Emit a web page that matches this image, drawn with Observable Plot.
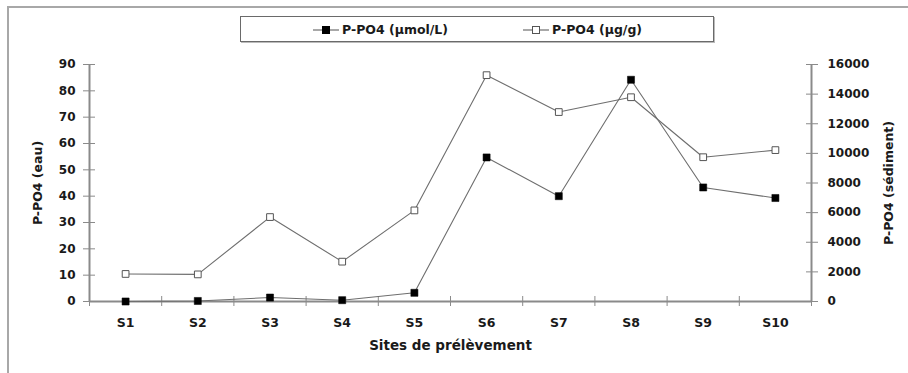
<!DOCTYPE html>
<html>
<head>
<meta charset="utf-8">
<script src="https://cdn.jsdelivr.net/npm/d3@7"></script>
<script src="https://cdn.jsdelivr.net/npm/@observablehq/plot@0.6"></script>
<style>
  html, body { margin: 0; padding: 0; background: #fff; }
  #wrap { position: relative; width: 908px; height: 373px; overflow: hidden; font-family: "DejaVu Sans", sans-serif; }
  #frameTop { position: absolute; left: 7px; top: 6px; width: 910px; height: 0; border-top: 2px solid #a8a8a8; }
  #frameLeft { position: absolute; left: 7px; top: 6px; width: 0; height: 380px; border-left: 2px solid #a8a8a8; }
  #legend { position: absolute; left: 240px; top: 16px; width: 472px; height: 24px; border: 1px solid #6a6a6a; box-shadow: 1px 1px 0 #bbb; background: #fff;
            font-weight: bold; font-size: 12.5px; color: #1a1a1a; }
  .item { position: absolute; top: 5px; display: flex; align-items: center; white-space: nowrap; }
  .item svg { margin-right: 3px; }
  #chart svg { display: block; }
</style>
</head>
<body>
<div id="wrap">
  <div id="chart"></div>
  <div id="frameTop"></div>
  <div id="frameLeft"></div>
  <div id="legend"></div>
</div>
<script>
const sites = ["S1", "S2", "S3", "S4", "S5", "S6", "S7", "S8", "S9", "S10"];
const eau = [0, 0.2, 1.5, 0.5, 3.3, 54.7, 40.0, 84.2, 43.3, 39.3];          // P-PO4 (µmol/L)
const sediment = [1860, 1830, 5700, 2690, 6150, 15280, 12790, 13790, 9740, 10220]; // P-PO4 (µg/g)
const leftTicks = [0, 10, 20, 30, 40, 50, 60, 70, 80, 90];
const rightTicks = [0, 2000, 4000, 6000, 8000, 10000, 12000, 14000, 16000];
const leftMax = 90, rightMax = 16000;
const seriesNames = ["P-PO4 (µmol/L)", "P-PO4 (µg/g)"];
const yLabelLeft = "P-PO4 (eau)";
const yLabelRight = "P-PO4 (sédiment)";
const xLabel = "Sites de prélèvement";

const ratio = leftMax / rightMax;
const rows = sites.map((s, i) => ({i, site: s, eau: eau[i], sed: sediment[i] * ratio}));
const centers = sites.map((_, i) => i + 0.5);
const bounds = d3.range(sites.length + 1);

const axisColor = "#8a8a8a";
const lineColor = "#6e6e6e";
const textColor = "#1a1a1a";

const chart = Plot.plot({
  width: 908,
  height: 373,
  marginLeft: 89,
  marginRight: 97,
  marginTop: 64,
  marginBottom: 72,
  style: {fontFamily: "'DejaVu Sans', sans-serif", fontWeight: "bold", fontSize: "12px", color: textColor, background: "transparent"},
  x: {type: "linear", domain: [0, sites.length], axis: null},
  y: {domain: [0, leftMax], axis: null},
  marks: [
    // left axis
    Plot.axisY({anchor: "left", ticks: leftTicks, tickSize: 12, dx: 6, tickPadding: 8, stroke: axisColor, fill: textColor, fontSize: 12, label: null}),
    // right axis
    Plot.axisY({anchor: "right", ticks: rightTicks.map(v => v * ratio), tickFormat: d => String(Math.round(d / ratio)), tickSize: 12, dx: -6, tickPadding: 10, stroke: axisColor, fill: textColor, fontSize: 12, label: null}),
    // x boundary ticks
    Plot.axisX({anchor: "bottom", ticks: bounds, tickFormat: () => "", tickSize: 10, dy: -5, stroke: axisColor, label: null}),
    // x category labels
    Plot.axisX({anchor: "bottom", ticks: centers, tickFormat: d => sites[Math.floor(d)], tickSize: 0, tickPadding: 17, fill: textColor, fontSize: 12.5, label: null}),
    Plot.ruleX([0, sites.length], {stroke: axisColor, strokeWidth: 2}),
    Plot.ruleY([0], {stroke: axisColor, strokeWidth: 2}),
    // series
    Plot.line(rows, {x: d => d.i + 0.5, y: "sed", stroke: lineColor, strokeWidth: 1.1}),
    Plot.line(rows, {x: d => d.i + 0.5, y: "eau", stroke: lineColor, strokeWidth: 1.1}),
    Plot.dot(rows, {x: d => d.i + 0.5, y: "sed", symbol: "square", r: 3.8, fill: "white", stroke: "#555", strokeWidth: 1}),
    Plot.dot(rows, {x: d => d.i + 0.5, y: "eau", symbol: "square", r: 4, fill: "black", stroke: "black", strokeWidth: 0.5}),
    // axis titles
    Plot.text([yLabelLeft], {frameAnchor: "left", textAnchor: "middle", dx: -52, rotate: -90, fill: textColor, fontSize: 12.5}),
    Plot.text([yLabelRight], {frameAnchor: "right", textAnchor: "middle", dx: 77, rotate: -90, fill: textColor, fontSize: 12.5}),
    Plot.text([xLabel], {frameAnchor: "bottom", textAnchor: "middle", dy: 48, fill: textColor, fontSize: 13.5})
  ]
});
document.getElementById("chart").appendChild(chart);

// legend
const legend = document.getElementById("legend");
const itemX = [72, 282];
seriesNames.forEach((name, k) => {
  const item = document.createElement("div");
  item.className = "item";
  item.style.left = itemX[k] + "px";
  const filled = k === 0;
  item.innerHTML = `<svg width="26" height="10"><line x1="0" y1="5" x2="26" y2="5" stroke="${lineColor}" stroke-width="1.2"/>` +
    `<rect x="9.5" y="1.5" width="7" height="7" fill="${filled ? "black" : "white"}" stroke="${filled ? "black" : "#555"}" stroke-width="1"/></svg>` +
    `<span>${name}</span>`;
  legend.appendChild(item);
});
</script>
</body>
</html>
